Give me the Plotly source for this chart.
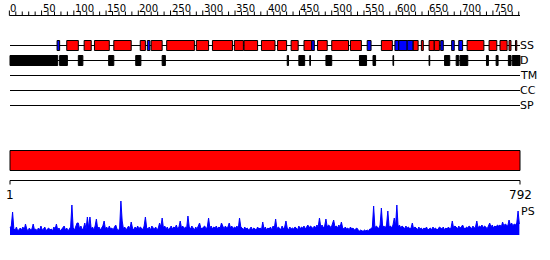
import plotly.graph_objects as go

# ---------------- data ----------------
SEQ_LEN = 792
ruler_ticks = list(range(0, 791, 10))
ruler_labels = list(range(0, 751, 50))
track_names = ["SS", "D", "TM", "CC", "SP"]

helix_segments = [(89, 107), (116, 127), (132, 155), (162, 189), (203, 211), (220, 237),
                  (244, 287), (290, 309), (315, 346), (349, 363), (364, 385), (391, 412),
                  (416, 430), (437, 448), (457, 469), (478, 493), (500, 526), (529, 546),
                  (577, 594), (626, 634), (639, 642), (651, 659), (659, 667), (710, 736),
                  (744, 756), (761, 772), (775, 778), (785, 787)]
strand_segments = [(74, 78), (214, 218), (469, 473), (555, 561), (598, 604), (604, 617),
                   (617, 626), (669, 673), (686, 690), (697, 703)]
disorder_segments = [(1, 75), (78, 90), (107, 114), (154, 162), (196, 204), (237, 242),
                     (431, 433), (449, 458), (466, 467), (491, 500), (543, 554), (564, 568),
                     (595, 596), (651, 652), (675, 683), (693, 697), (699, 711), (740, 743),
                     (755, 758), (774, 778), (780, 789), (789, 792)]
domain_segments = [(1, 792)]

ps_step = 2
ps_values = [
    7, 9, 23, 6, 5, 8, 4, 6, 7, 5, 8, 5, 11, 6, 4, 7, 5, 6, 11, 5,
    6, 4, 7, 5, 9, 5, 6, 8, 4, 6, 7, 5, 6, 4, 8, 6, 11, 5, 7, 4,
    6, 8, 9, 5, 7, 4, 6, 8, 30, 7, 5, 8, 12, 12, 6, 9, 5, 7, 12, 6,
    18, 7, 18, 6, 8, 5, 9, 16, 6, 8, 5, 7, 9, 14, 6, 8, 5, 9, 6, 7,
    5, 8, 10, 6, 4, 7, 34, 14, 6, 8, 5, 7, 9, 6, 13, 7, 5, 8, 6, 9,
    6, 8, 7, 5, 9, 18, 7, 6, 8, 5, 9, 7, 6, 8, 5, 7, 12, 8, 17, 7,
    9, 6, 8, 5, 7, 9, 6, 8, 7, 10, 6, 8, 14, 7, 9, 6, 8, 7, 19, 8,
    6, 9, 7, 5, 8, 6, 9, 12, 7, 6, 8, 9, 6, 8, 17, 7, 9, 6, 8, 7,
    9, 6, 8, 7, 12, 8, 6, 9, 7, 8, 12, 7, 9, 6, 8, 7, 9, 6, 17, 8,
    7, 5, 8, 6, 7, 5, 6, 8, 5, 7, 6, 5, 8, 6, 7, 5, 13, 6, 8, 5,
    7, 6, 8, 5, 9, 7, 16, 6, 8, 7, 5, 9, 6, 8, 14, 7, 5, 8, 6, 7,
    6, 8, 7, 5, 9, 6, 8, 7, 9, 6, 8, 10, 7, 9, 8, 6, 9, 7, 10, 8,
    17, 8, 10, 7, 9, 16, 8, 10, 9, 7, 11, 15, 8, 9, 7, 10, 8, 13, 7, 6,
    8, 6, 7, 5, 8, 6, 7, 5, 6, 7, 5, 4, 5, 4, 4, 5, 4, 5, 4, 6,
    6, 8, 29, 7, 9, 8, 6, 10, 27, 8, 9, 7, 10, 24, 8, 9, 7, 10, 17, 9,
    30, 8, 10, 7, 9, 8, 6, 9, 7, 8, 6, 7, 12, 6, 8, 7, 5, 8, 6, 7,
    5, 7, 6, 8, 5, 6, 7, 5, 8, 6, 7, 5, 6, 8, 7, 6, 8, 5, 7, 6,
    8, 6, 7, 14, 7, 9, 8, 6, 9, 7, 8, 10, 7, 6, 8, 7, 9, 8, 6, 9,
    7, 8, 14, 7, 9, 8, 10, 7, 9, 8, 6, 9, 12, 8, 10, 7, 9, 8, 10, 9,
    10, 8, 13, 9, 11, 10, 9, 15, 10, 12, 9, 11, 10, 12, 24, 11]
ps_positions = [1 + ps_step * i for i in range(len(ps_values))]

# ---------------- layout constants ----------------
W, H = 550, 260
LEFT_PX, RIGHT_PX = 10, 520
scale = (SEQ_LEN - 1) / (RIGHT_PX - LEFT_PX)
x_lo = 1 - LEFT_PX * scale
x_hi = SEQ_LEN + (W - RIGHT_PX) * scale

track_y = {"SS": 45.5, "D": 60.5, "TM": 75.5, "CC": 90.5, "SP": 105.5}
FONT = "DejaVu Sans"

fig = go.Figure()
shapes = []
annotations = []

# ruler
shapes.append(dict(type="line", xref="x", yref="y", x0=0, x1=SEQ_LEN, y0=15.5, y1=15.5,
                   line=dict(color="black", width=1)))
tx, ty = [], []
for t in ruler_ticks:
    top = 10.5 if t % 50 == 0 else 11.5
    tx += [t, t, None]
    ty += [15.5, top, None]
fig.add_trace(go.Scatter(x=tx, y=ty, mode="lines", line=dict(color="black", width=1),
                         hoverinfo="skip", showlegend=False))
for t in ruler_labels:
    annotations.append(dict(x=t, y=8, xref="x", yref="y", text=str(t), showarrow=False,
                            xanchor="left", yanchor="middle", xshift=-1,
                            font=dict(family=FONT, size=10, color="black")))

# track lines + labels
for name in track_names:
    y = track_y[name]
    shapes.append(dict(type="line", xref="x", yref="y", x0=1, x1=SEQ_LEN, y0=y, y1=y,
                       line=dict(color="black", width=1), layer="below"))
    annotations.append(dict(x=SEQ_LEN, y=y, xref="x", yref="y", text=name, showarrow=False,
                            xanchor="left", yanchor="middle", xshift=-2,
                            font=dict(family=FONT, size=11, color="black")))

def boxes(segs, yc, half, color):
    for s, e in segs:
        shapes.append(dict(type="rect", xref="x", yref="y", x0=s, x1=e,
                           y0=yc - half, y1=yc + half, fillcolor=color,
                           line=dict(color="black", width=1)))

boxes(helix_segments, track_y["SS"], 5, "#ff0000")
boxes(strand_segments, track_y["SS"], 5, "#0000ff")
boxes(disorder_segments, track_y["D"], 5, "#000000")

# domain bar
for s, e in domain_segments:
    shapes.append(dict(type="rect", xref="x", yref="y", x0=s, x1=e, y0=150.5, y1=170.5,
                       fillcolor="#ff0000", line=dict(color="black", width=1)))
# bracket
fig.add_trace(go.Scatter(x=[1, 1, SEQ_LEN, SEQ_LEN], y=[184.5, 180.5, 180.5, 184.5],
                         mode="lines", line=dict(color="black", width=1),
                         hoverinfo="skip", showlegend=False))
annotations.append(dict(x=1, y=195, xref="x", yref="y", text="1", showarrow=False,
                        xanchor="center", yanchor="middle",
                        font=dict(family=FONT, size=12, color="black")))
annotations.append(dict(x=SEQ_LEN, y=195, xref="x", yref="y", text=str(SEQ_LEN),
                        showarrow=False, xanchor="center", yanchor="middle",
                        font=dict(family=FONT, size=12, color="black")))

# PS profile
fig.add_trace(go.Scatter(x=ps_positions, y=ps_values, xaxis="x", yaxis="y2", mode="lines",
                         fill="tozeroy", fillcolor="#0000ff", line=dict(color="#0000ff", width=1),
                         hoverinfo="skip", showlegend=False))
annotations.append(dict(x=SEQ_LEN, y=211, xref="x", yref="y", text="PS", showarrow=False,
                        xanchor="left", yanchor="middle", xshift=-1,
                        font=dict(family=FONT, size=11, color="black")))

fig.update_layout(
    width=W, height=H, margin=dict(l=0, r=0, t=0, b=0),
    paper_bgcolor="white", plot_bgcolor="white",
    xaxis=dict(range=[x_lo, x_hi], visible=False, fixedrange=True),
    yaxis=dict(range=[H, 0], visible=False, fixedrange=True, domain=[0, 1]),
    yaxis2=dict(range=[0, 40], visible=False, domain=[25 / H, 65 / H], anchor="x"),
    shapes=shapes, annotations=annotations, showlegend=False,
)

fig.write_html("out.html")
